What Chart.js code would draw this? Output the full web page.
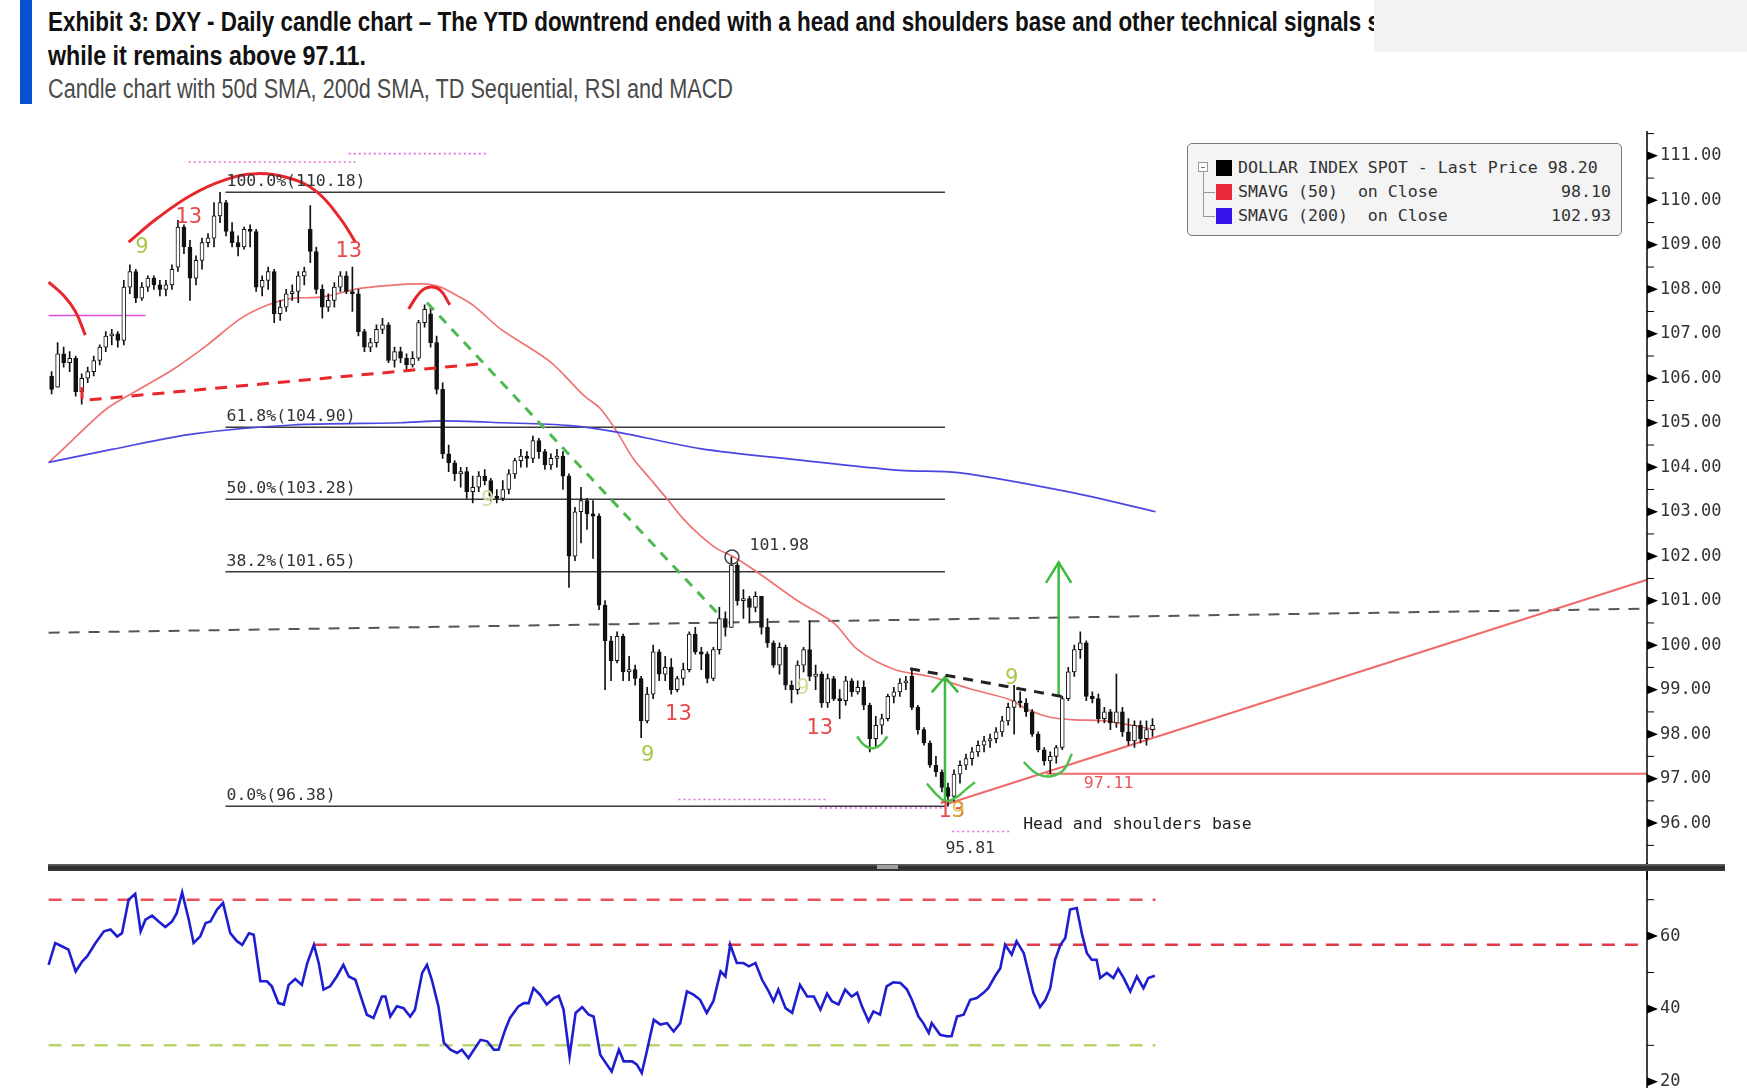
<!DOCTYPE html>
<html>
<head>
<meta charset="utf-8">
<title>DXY - Daily candle chart</title>
<script src="https://cdn.jsdelivr.net/npm/chart.js@4.4.1/dist/chart.umd.min.js"></script>
<style>
html,body{margin:0;padding:0;background:#fff;}
body{position:relative;width:1747px;height:1088px;overflow:hidden;}
#bar{position:absolute;left:20px;top:0;width:12px;height:104px;background:#0a50d2;}
.t{position:absolute;left:48px;white-space:nowrap;transform-origin:0 50%;line-height:32px;}
#t1,#t2{font-family:"Liberation Sans Narrow","Liberation Sans",Arial,sans-serif;font-weight:bold;font-size:28px;color:#111;}
#t1{top:6px;} #t2{top:40px;}
#t3{top:73px;font-family:"Liberation Sans Narrow","Liberation Sans",Arial,sans-serif;font-size:27px;color:#4a4a4a;}
#grey{position:absolute;left:1374px;top:0;width:373px;height:52px;background:#f2f2f2;}
canvas{position:absolute;left:0;}
#pc{top:0;width:1747px;height:880px;}
#rc{top:863px;width:1747px;height:228px;}
#sep{position:absolute;left:48px;top:864px;width:1677px;height:7px;background:linear-gradient(#6a6a6a,#2a2a2a 45%,#3c3c3c);}
#handle{position:absolute;left:877px;top:865px;width:21px;height:4px;background:#a0a0a0;}
#leg{position:absolute;left:1187px;top:143px;width:435px;height:93px;box-sizing:border-box;border:1.5px solid #7a7a7a;border-radius:5px;background:#f4f4f4;font-family:"DejaVu Sans Mono",monospace;font-size:16.6px;color:#333;}
#leg .sq{position:absolute;left:28px;width:16px;height:16px;}
#leg .lt{position:absolute;left:50px;line-height:22px;white-space:pre;}
#leg .lv{position:absolute;right:10px;line-height:22px;white-space:pre;}
#leg .tb{position:absolute;left:10px;top:18px;width:8px;height:8px;border:1px solid #999;background:#fff;}
#leg .tb::after{content:"";position:absolute;left:2px;top:3.5px;width:4px;height:1px;background:#777;}
#leg .tv{position:absolute;left:14.5px;top:28px;width:1px;height:44px;background:#999;}
#leg .th{position:absolute;left:14.5px;width:12px;height:1px;background:#999;}
</style>
</head>
<body>
<div id="bar"></div>
<div id="t1" class="t" data-w="1332">Exhibit 3: DXY - Daily candle chart – The YTD downtrend ended with a head and shoulders base and other technical signals s</div>
<div id="t2" class="t" data-w="318">while it remains above 97.11.</div>
<div id="t3" class="t" data-w="685">Candle chart with 50d SMA, 200d SMA, TD Sequential, RSI and MACD</div>
<div id="grey"></div>

<canvas id="pc" width="1747" height="880"></canvas>
<canvas id="rc" width="1747" height="228"></canvas>
<div id="sep"></div><div id="handle"></div>

<div id="leg">
  <div class="tb"></div><div class="tv"></div>
  <div class="th" style="top:48px"></div><div class="th" style="top:72px"></div>
  <div class="sq" style="top:16px;background:#000"></div>
  <div class="sq" style="top:40px;background:#ea2a3c"></div>
  <div class="sq" style="top:64px;background:#3312ec"></div>
  <div class="lt" style="top:13px">DOLLAR INDEX SPOT - Last Price 98.20</div>
  <div class="lt" style="top:37px">SMAVG (50)  on Close</div><div class="lv" style="top:37px">98.10</div>
  <div class="lt" style="top:61px">SMAVG (200)  on Close</div><div class="lv" style="top:61px">102.93</div>
</div>

<script>
// ---------------- DATA ----------------
const priceTicks = [96,97,98,99,100,101,102,103,104,105,106,107,108,109,110,111];
const rsiTicks = [20,40,60];

// daily candles [open, high, low, close], one per weekday from early Dec 2024
const candles = [
[106.05,106.15,105.65,105.75],[105.8,106.8,105.8,106.55],[106.55,106.7,106.25,106.35],[106.35,106.6,106.15,106.45],
[106.45,106.5,105.6,105.7],[105.7,106.1,105.42,106.0],[106.0,106.25,105.9,106.15],[106.15,106.5,106.05,106.4],
[106.4,106.75,106.3,106.7],[106.7,107.05,106.6,106.95],[106.95,107.1,106.75,107.0],[107.0,107.05,106.7,106.85],
[106.85,108.2,106.75,108.05],[108.05,108.55,107.9,108.4],[108.4,108.45,107.7,107.8],[107.8,108.15,107.75,108.05],
[108.05,108.3,107.95,108.25],[108.25,108.3,108.0,108.1],[108.1,108.2,107.85,108.0],[108.0,108.2,107.85,108.1],
[108.1,108.55,108.0,108.45],[108.5,109.55,108.4,109.4],[109.4,109.45,108.8,108.95],[108.95,109.1,107.75,108.25],
[108.25,108.75,108.1,108.65],[108.65,109.15,108.45,109.05],[109.05,109.25,108.95,109.15],[109.15,109.95,108.95,109.65],
[109.65,110.18,109.5,109.95],[109.95,110.0,109.2,109.3],[109.3,109.5,108.95,109.05],[109.05,109.2,108.75,108.95],
[108.95,109.4,108.9,109.35],[109.35,109.45,108.95,109.3],[109.3,109.35,107.95,108.05],[108.05,108.3,107.85,108.2],
[108.2,108.5,108.0,108.4],[108.4,108.45,107.25,107.45],[107.45,107.75,107.3,107.6],[107.6,108.0,107.5,107.9],
[107.9,108.1,107.75,107.95],[107.95,108.4,107.7,108.3],[108.3,108.5,108.1,108.4],[109.35,109.88,108.6,108.85],
[108.85,108.95,107.9,108.0],[108.0,108.1,107.35,107.6],[107.6,107.9,107.5,107.75],[107.75,108.15,107.6,108.05],
[108.05,108.4,107.95,108.3],[108.3,108.4,107.9,107.95],[107.95,108.5,107.5,107.9],[107.9,108.0,106.95,107.05],
[107.05,107.1,106.6,106.7],[106.7,106.9,106.6,106.8],[106.8,107.2,106.7,107.1],[107.1,107.35,107.0,107.2],
[107.2,107.25,106.35,106.4],[106.4,106.7,106.25,106.6],[106.6,106.7,106.35,106.45],[106.45,106.55,106.15,106.3],
[106.3,106.6,106.25,106.45],[106.45,107.3,106.4,107.25],[107.25,107.65,107.15,107.55],[107.45,107.6,106.7,106.8],
[106.8,106.95,105.65,105.75],[105.75,105.9,104.2,104.3],[104.3,104.5,103.9,104.1],[104.1,104.15,103.7,103.85],
[103.85,104.0,103.55,103.9],[103.9,104.0,103.3,103.45],[103.45,103.8,103.2,103.55],[103.55,103.9,103.45,103.8],
[103.8,103.95,103.6,103.7],[103.7,103.75,103.25,103.35],[103.35,103.5,103.2,103.3],[103.3,103.7,103.25,103.5],
[103.5,103.95,103.4,103.85],[103.85,104.2,103.75,104.15],[104.15,104.4,104.0,104.25],[104.25,104.35,104.0,104.2],
[104.2,104.7,104.1,104.6],[104.6,104.65,104.2,104.35],[104.35,104.4,103.95,104.05],[104.05,104.3,103.95,104.2],
[104.2,104.4,104.0,104.25],[104.25,104.35,103.5,103.8],[103.8,103.85,101.3,102.0],[102.0,103.1,101.9,103.0],
[103.0,103.55,102.3,103.25],[103.25,103.3,102.6,102.95],[102.95,103.25,101.95,102.9],[102.9,102.95,100.8,100.9],
[100.9,101.0,99.0,100.1],[100.1,100.2,99.2,99.65],[99.65,100.3,99.6,100.2],[100.2,100.25,99.2,99.4],
[99.4,99.75,99.2,99.45],[99.45,99.55,99.1,99.25],[99.25,99.3,97.92,98.3],[98.3,99.05,98.25,98.9],
[98.9,100.0,98.8,99.85],[99.85,99.9,99.2,99.35],[99.35,99.75,99.2,99.5],[99.5,99.7,98.9,99.0],
[99.0,99.3,98.95,99.25],[99.25,99.6,99.1,99.45],[99.45,100.3,99.4,100.25],[100.25,100.4,99.8,99.85],
[99.85,99.95,99.45,99.8],[99.8,99.85,99.15,99.25],[99.25,99.95,99.2,99.9],[99.9,100.85,99.8,100.6],
[100.6,100.75,100.2,100.4],[100.4,101.98,100.4,101.8],[101.8,101.85,100.9,101.0],[101.0,101.25,100.6,101.05],
[101.05,101.1,100.5,100.85],[100.85,101.2,100.75,101.1],[101.1,101.1,100.25,100.4],[100.4,100.6,99.95,100.05],
[100.05,100.1,99.5,99.55],[99.55,100.05,99.35,99.95],[99.95,100.0,99.0,99.1],[99.1,99.2,98.7,99.0],
[99.0,99.65,98.9,99.55],[99.55,99.95,99.4,99.9],[99.9,100.55,99.2,99.3],[99.3,99.55,99.0,99.35],
[99.35,99.4,98.6,98.7],[98.7,99.35,98.6,99.25],[99.25,99.3,98.75,98.8],[98.8,99.0,98.35,98.75],
[98.75,99.3,98.65,99.2],[99.2,99.25,98.85,98.95],[98.95,99.2,98.9,99.05],[99.05,99.2,98.55,98.65],
[98.65,98.7,97.6,97.9],[97.9,98.4,97.7,98.2],[98.2,98.45,98.0,98.35],[98.35,98.9,98.3,98.85],
[98.85,99.05,98.7,98.95],[98.95,99.25,98.85,99.15],[99.15,99.3,99.0,99.2],[99.3,99.45,98.55,98.6],
[98.6,98.65,98.0,98.1],[98.1,98.15,97.75,97.8],[97.8,97.85,97.25,97.3],[97.3,97.5,97.05,97.15],
[97.15,97.2,96.7,96.8],[96.8,96.9,96.38,96.6],[96.6,97.2,96.5,97.1],[97.1,97.4,96.9,97.3],
[97.3,97.55,97.2,97.45],[97.45,97.7,97.3,97.6],[97.6,97.85,97.5,97.75],[97.75,97.95,97.6,97.85],
[97.85,98.0,97.7,97.9],[97.9,98.15,97.8,98.05],[98.05,98.4,97.95,98.3],[98.3,98.7,98.2,98.6],
[98.6,99.1,98.0,98.75],[98.75,98.95,98.6,98.7],[98.7,98.8,98.4,98.5],[98.5,98.55,97.95,98.0],
[98.0,98.05,97.6,97.65],[97.65,97.7,97.3,97.4],[97.4,97.6,97.11,97.5],[97.5,97.75,97.35,97.7],
[97.7,98.85,97.65,98.8],[98.8,99.5,98.75,99.4],[99.4,100.0,99.3,99.9],[99.9,100.3,99.7,100.05],
[100.05,100.1,98.75,98.85],[98.85,98.95,98.7,98.8],[98.8,98.9,98.25,98.35],[98.35,98.6,98.25,98.5],
[98.5,98.55,98.1,98.25],[98.25,99.35,98.15,98.5],[98.5,98.6,97.95,98.05],[98.05,98.35,97.75,97.85],
[97.85,98.3,97.7,98.2],[98.2,98.3,97.8,97.9],[97.9,98.3,97.75,98.1],[98.1,98.35,97.95,98.2]
];

// moving averages: [bar index, value]
const sma50 = [[-0.5,104.1],[3.7,104.64],[9.2,105.32],[14.8,105.77],[20.3,106.21],[25.8,106.74],[31.4,107.34],[35.8,107.64],[39.7,107.79],[45.2,107.83],[50.8,108.01],[56.3,108.09],[61.8,108.12],[64.6,108.05],[66.3,107.94],[70.1,107.64],[74.6,107.11],[82.9,106.37],[88.4,105.62],[91.2,105.32],[94.0,104.79],[96.7,104.19],[99.5,103.74],[102.3,103.29],[105.0,102.84],[107.8,102.47],[110.6,102.17],[113.4,101.98],[117.2,101.65],[124.0,101.0],[130.0,100.5],[134.0,99.9],[140.0,99.46],[146.5,99.28],[152.9,99.01],[159.2,98.78],[162.3,98.55],[166.0,98.38],[170.0,98.32],[175.0,98.3],[183.5,98.1]];
const sma200 = [[-0.5,104.11],[10,104.4],[23.6,104.75],[40,104.95],[58,105.0],[65,105.04],[75,105.0],[85.7,104.94],[94,104.79],[107.8,104.42],[124.4,104.16],[141,103.93],[150.7,103.88],[169.3,103.44],[183.5,103.0]];

// RSI(14): [bar index, value]
const rsi = [[-0.5,52.1],[0.6,58.1],[1.7,57.2],[2.8,56.3],[4.0,50.3],[5.1,53.1],[5.9,54.4],[7.3,58.1],[8.7,61.3],[9.8,61.8],[10.9,59.9],[11.7,60.8],[12.8,70.0],[13.9,71.6],[14.8,61.3],[15.6,64.5],[16.7,65.6],[17.8,64.0],[18.9,62.5],[20.0,64.0],[20.8,66.3],[21.7,72.0],[22.8,64.5],[23.6,58.1],[24.7,59.9],[25.6,63.6],[26.4,64.0],[27.5,67.3],[28.5,69.1],[29.7,60.8],[30.8,58.6],[31.7,57.6],[32.8,60.8],[33.6,60.4],[34.7,47.6],[35.8,47.6],[36.6,46.2],[37.7,41.6],[38.6,41.2],[39.4,46.6],[40.5,48.2],[41.6,46.6],[42.5,52.6],[43.6,57.6],[44.4,52.6],[45.2,45.3],[46.3,46.2],[47.4,48.9],[48.5,52.1],[49.4,48.9],[50.5,48.0],[51.3,43.9],[52.4,38.4],[53.5,37.5],[54.9,43.4],[55.5,43.4],[56.3,37.9],[57.4,40.7],[58.5,40.2],[59.6,37.9],[60.4,39.8],[61.6,49.9],[62.4,52.1],[63.2,48.0],[64.3,40.7],[65.2,30.7],[66.3,28.8],[67.4,27.9],[68.2,28.8],[69.3,26.5],[70.2,28.8],[71.3,31.5],[72.4,31.1],[73.5,28.8],[74.3,28.8],[75.4,34.3],[76.2,37.5],[77.6,40.7],[78.5,41.6],[79.3,41.6],[80.1,45.7],[81.2,43.9],[82.3,41.2],[83.5,43.0],[84.3,43.6],[85.1,39.8],[86.1,27.0],[87.1,38.9],[88.2,40.5],[89.3,38.4],[90.1,37.9],[91.2,27.4],[92.3,24.7],[93.1,22.8],[94.3,28.8],[95.1,25.6],[96.5,25.6],[97.3,24.7],[98.1,22.4],[99.0,28.8],[100.1,37.0],[101.2,35.7],[102.3,36.1],[103.4,33.8],[104.5,36.1],[105.6,44.8],[106.7,43.9],[107.8,42.5],[108.9,38.9],[110.0,42.1],[111.2,50.3],[112.0,48.9],[112.8,57.6],[113.9,52.6],[115.0,52.6],[115.9,51.7],[117.0,52.6],[118.1,48.0],[119.2,44.8],[120.0,42.1],[120.8,45.3],[122.0,40.2],[123.1,38.9],[124.4,46.6],[125.6,43.4],[126.7,43.4],[127.8,39.8],[128.9,44.2],[129.7,42.1],[130.8,41.2],[131.9,45.3],[133.0,43.4],[133.9,44.4],[134.7,40.7],[135.8,36.6],[136.6,39.3],[137.7,38.4],[138.8,46.2],[139.9,47.3],[141.1,47.1],[142.2,45.3],[143.0,42.5],[144.1,37.9],[144.9,36.1],[145.8,33.4],[146.3,36.1],[147.7,32.9],[148.8,32.5],[149.6,32.5],[150.5,37.9],[151.6,38.4],[152.7,42.5],[153.8,43.0],[154.9,44.4],[155.7,45.7],[156.8,48.9],[157.7,51.2],[158.5,57.6],[159.6,54.9],[160.4,58.6],[161.6,55.3],[162.4,49.9],[163.2,44.4],[164.3,40.5],[165.2,42.5],[166.0,45.7],[166.8,53.5],[167.7,57.6],[168.5,59.5],[169.3,67.3],[170.4,67.7],[171.3,60.4],[172.1,55.3],[172.9,53.5],[173.7,53.5],[174.3,48.5],[175.4,49.9],[176.5,48.5],[177.3,51.0],[178.2,48.5],[179.3,44.8],[180.4,48.9],[181.5,45.7],[182.3,48.5],[183.4,49.1]];

// Fibonacci retracement levels and names
const fibLevels = [110.18, 104.90, 103.28, 101.65, 96.38];
const fibNames = ['100.0%', '61.8%', '50.0%', '38.2%', '0.0%'];
const rsiBands = [70, 57.6, 30];

// ---------------- ANNOTATION GEOMETRY (data space) ----------------
const X_MIN = -0.6, X_MAX = 265.2;
const fibSpan = [28.9, 148.5];
const ann = {
  greyDash: [[-0.5,100.28],[X_MAX,100.82]],
  redNeck: [[5.06,105.8],[5.06,105.5],[71.8,106.33]],
  greenDash: [[62.4,107.7],[111.5,100.6]],
  blackNeck: [[142.7,99.47],[168.2,98.84]],
  magentaLine: [[-0.5,107.41],[15.6,107.41]],
  dots: [
    [[22.8,110.86],[50.5,110.86]],
    [[49.4,111.05],[72.4,111.05]],
    [[104.2,96.53],[128.7,96.53]],
    [[127.7,96.34],[149.0,96.34]],
    [[149.7,95.81],[159.3,95.81]]
  ],
  domeBig: [[12.8,109.06],[17.5,109.59],[23.1,110.11],[28.6,110.45],[34.1,110.6],[39.7,110.49],[44.1,110.19],[48.0,109.59],[50.5,109.06]],
  domeLeft: [[-0.5,108.16],[2.0,107.86],[4.0,107.49],[5.6,106.97]],
  domeSmall: [[59.35,107.56],[61.3,107.94],[63.0,108.05],[64.6,107.98],[66.2,107.65]],
  smile1: [[133.9,97.95],[135.0,97.76],[136.4,97.68],[137.8,97.76],[138.9,97.95]],
  smile2: [[145.5,96.89],[147.2,96.63],[148.7,96.49],[150.5,96.59],[152.1,96.77],[153.5,96.92]],
  smile3: [[161.6,97.37],[163.8,97.11],[166.0,97.05],[168.2,97.19],[169.6,97.56]],
  arrow1: [[148.5,96.45],[148.5,99.28]],
  head1: [[146.3,98.94],[148.5,99.28],[150.7,98.94]],
  arrow2: [[167.4,98.84],[167.4,101.86]],
  head2: [[165.3,101.4],[167.4,101.86],[169.5,101.4]],
  trend: [[148.8,96.43],[X_MAX,101.47]],
  support: [[165.4,97.11],[X_MAX,97.11]],
  circle: [[113.1,101.98]]
};
const tdMarks = [
  ['9',15.0,108.93,'#a9c84a'],['13',22.8,109.62,'#e8474c'],['13',49.4,108.84,'#e8474c'],
  ['9',72.5,103.26,'#cddf9e'],['9',99.1,97.52,'#a9c84a'],['13',104.2,98.44,'#e8474c'],
  ['9',124.9,99.02,'#cddf9e'],['13',127.7,98.13,'#e8474c'],['9',159.6,99.25,'#a9c84a'],
  ['13',149.65,96.25,'#e8474c'],['9',150.7,96.25,'rgba(214,190,60,0.85)']
];
const priceLabels = [
  ['101.98',116.0,102.24,'left','#333'],
  ['97.11',175.7,96.88,'center','#e8585c'],
  ['Head and shoulders base',161.5,95.97,'left','#222'],
  ['95.81',152.7,95.42,'center','#333']
];

// ---------------- HELPERS ----------------
const pts = a => a.map(p => ({x:p[0], y:p[1]}));
function lineDS(points, color, width, dash, order, tension){
  return {type:'line', data:pts(points), borderColor:color, borderWidth:width,
    borderDash:dash||[], pointRadius:0, pointHoverRadius:0, fill:false,
    tension:tension||0, order:order, clip:false};
}
function fixAxis(s){ s.width = 100; s.paddingTop = 0; s.paddingBottom = 0; }

// ---------------- PRICE CHART ----------------
const datasets = [];
fibLevels.forEach(v => datasets.push(lineDS([[fibSpan[0],v],[fibSpan[1],v]], '#3a3a3a', 1.6, [], 9)));
datasets.push(lineDS(ann.greyDash, '#555', 2, [11,9], 8));
datasets.push(lineDS(sma200, '#4b46e2', 1.7, [], 7, 0.3));
datasets.push(lineDS(sma50, '#f07272', 1.7, [], 7, 0.3));
datasets.push(lineDS(ann.trend, '#f06a6a', 2, [], 6));
datasets.push(lineDS(ann.support, '#f06a6a', 2, [], 6));
datasets.push(lineDS(ann.magentaLine, '#dd4ddd', 1.6, [], 6));
ann.dots.forEach(d => datasets.push(lineDS(d, '#e36ae3', 1.6, [2,3], 6)));
datasets.push({type:'bar', label:'wick', data:candles.map((c,i)=>({x:i, y:[c[2],c[1]]})),
  backgroundColor:'#111', barThickness:1, grouped:false, order:3, borderWidth:0, minBarLength:1});
datasets.push({type:'bar', label:'body', data:candles.map((c,i)=>({x:i, y:[c[0],c[3]]})),
  backgroundColor:candles.map(c => c[3] >= c[0] ? '#ffffff' : '#111111'),
  borderColor:'#111', borderWidth:1, borderSkipped:false, barThickness:4, grouped:false, order:2, minBarLength:1});
datasets.push(lineDS(ann.redNeck, '#e8262b', 3, [12,9], 1));
datasets.push(lineDS(ann.greenDash, '#4fb94f', 3, [10,8], 1));
datasets.push(lineDS(ann.blackNeck, '#222', 3, [10,8], 1));
datasets.push(lineDS(ann.domeBig, '#e8262b', 3, [], 1, 0.4));
datasets.push(lineDS(ann.domeLeft, '#e8262b', 3, [], 1, 0.4));
datasets.push(lineDS(ann.domeSmall, '#e8262b', 3, [], 1, 0.4));
[ann.smile1, ann.smile2, ann.smile3].forEach(s => datasets.push(lineDS(s, '#4cc04c', 2.5, [], 1, 0.4)));
[ann.arrow1, ann.head1, ann.arrow2, ann.head2].forEach(s => datasets.push(lineDS(s, '#3dbb3d', 2.5, [], 1)));
datasets.push({type:'line', data:pts(ann.circle), showLine:false, pointRadius:7, pointStyle:'circle',
  pointBorderColor:'#444', pointBackgroundColor:'rgba(0,0,0,0)', pointBorderWidth:1.5, order:0});

const priceDeco = {
  id:'priceDeco',
  afterDatasetsDraw(chart){
    const {ctx, scales:{x, y}} = chart;
    ctx.save();
    ctx.textBaseline = 'bottom';
    ctx.font = '16.5px "DejaVu Sans Mono", monospace';
    ctx.fillStyle = '#333';
    ctx.textAlign = 'left';
    fibLevels.forEach((v,k) => {
      ctx.fillText(fibNames[k] + '(' + v.toFixed(2) + ')', x.getPixelForValue(fibSpan[0]) + 1, y.getPixelForValue(v) - 2);
    });
    ctx.textBaseline = 'middle';
    priceLabels.forEach(l => {
      ctx.fillStyle = l[4]; ctx.textAlign = l[3];
      ctx.fillText(l[0], x.getPixelForValue(l[1]), y.getPixelForValue(l[2]));
    });
    ctx.font = '21px "DejaVu Sans", sans-serif';
    ctx.textAlign = 'center';
    tdMarks.forEach(m => {
      ctx.fillStyle = m[3];
      ctx.fillText(m[0], x.getPixelForValue(m[1]), y.getPixelForValue(m[2]));
    });
    ctx.restore();
  },
  afterDraw(chart){
    const {ctx, chartArea:a, scales:{y}} = chart;
    ctx.save();
    ctx.strokeStyle = '#000'; ctx.fillStyle = '#000'; ctx.lineWidth = 1.5;
    ctx.beginPath(); ctx.moveTo(a.right, 131); ctx.lineTo(a.right, 880); ctx.stroke();
    ctx.lineWidth = 1;
    priceTicks.forEach(v => {
      const py = y.getPixelForValue(v);
      ctx.beginPath(); ctx.moveTo(a.right, py - 4.5); ctx.lineTo(a.right + 11, py); ctx.lineTo(a.right, py + 4.5); ctx.closePath(); ctx.fill();
      const pm = y.getPixelForValue(v + 0.5);
      ctx.beginPath(); ctx.moveTo(a.right, pm); ctx.lineTo(a.right + 7, pm); ctx.stroke();
    });
    const p0 = y.getPixelForValue(priceTicks[0] - 0.5);
    ctx.beginPath(); ctx.moveTo(a.right, p0); ctx.lineTo(a.right + 7, p0); ctx.stroke();
    ctx.restore();
  }
};

new Chart(document.getElementById('pc'), {
  type:'bar',
  data:{datasets},
  options:{
    responsive:false, animation:false, events:[],
    layout:{padding:{left:48, top:133.6, bottom:12.4, right:0}},
    plugins:{legend:{display:false}, tooltip:{enabled:false}, title:{display:false}},
    scales:{
      x:{type:'linear', min:X_MIN, max:X_MAX, display:false, offset:false},
      y:{type:'linear', position:'right', min:95, max:111.5,
         grid:{display:false, drawTicks:false}, border:{display:false},
         afterFit: fixAxis,
         afterBuildTicks(s){ s.ticks = priceTicks.map(v => ({value:v})); },
         ticks:{autoSkip:false, padding:13, color:'#333',
           font:{family:'"DejaVu Sans Mono", monospace', size:17},
           callback:v => Number(v).toFixed(2)}}
    }
  },
  plugins:[priceDeco]
});

// ---------------- RSI CHART ----------------
const rsiDeco = {
  id:'rsiDeco',
  afterDraw(chart){
    const {ctx, chartArea:a, scales:{y}} = chart;
    ctx.save();
    ctx.strokeStyle = '#000'; ctx.fillStyle = '#000'; ctx.lineWidth = 1.5;
    ctx.beginPath(); ctx.moveTo(a.right, 0); ctx.lineTo(a.right, chart.height); ctx.stroke();
    ctx.lineWidth = 1;
    rsiTicks.forEach(v => {
      const py = y.getPixelForValue(v);
      ctx.beginPath(); ctx.moveTo(a.right, py - 4.5); ctx.lineTo(a.right + 11, py); ctx.lineTo(a.right, py + 4.5); ctx.closePath(); ctx.fill();
      const pm = y.getPixelForValue(v + 10);
      ctx.beginPath(); ctx.moveTo(a.right, pm); ctx.lineTo(a.right + 7, pm); ctx.stroke();
    });
    ctx.restore();
  }
};

new Chart(document.getElementById('rc'), {
  type:'line',
  data:{datasets:[
    lineDS([[-0.5,rsiBands[0]],[183.5,rsiBands[0]]], '#ea4f5c', 2.5, [13,10], 3),
    lineDS([[43.6,rsiBands[1]],[X_MAX,rsiBands[1]]], '#e23a48', 2.5, [13,10], 3),
    lineDS([[-0.5,rsiBands[2]],[183.5,rsiBands[2]]], '#b8d46c', 2.5, [13,10], 3),
    lineDS(rsi, '#1e1ed0', 2.6, [], 1)
  ]},
  options:{
    responsive:false, animation:false, events:[],
    layout:{padding:{left:48, top:10, bottom:0, right:0}},
    plugins:{legend:{display:false}, tooltip:{enabled:false}},
    scales:{
      x:{type:'linear', min:X_MIN, max:X_MAX, display:false, offset:false},
      y:{type:'linear', position:'right', min:17.45, max:77.33,
         grid:{display:false, drawTicks:false}, border:{display:false},
         afterFit: fixAxis,
         afterBuildTicks(s){ s.ticks = rsiTicks.map(v => ({value:v})); },
         ticks:{autoSkip:false, padding:13, color:'#333',
           font:{family:'"DejaVu Sans Mono", monospace', size:17},
           callback:v => String(v)}}
    }
  },
  plugins:[rsiDeco]
});

// ---------------- HEADER FIT ----------------
function fitTitles(){
  document.querySelectorAll('.t').forEach(el => {
    el.style.transform = 'none';
    const w = el.getBoundingClientRect().width;
    const target = +el.dataset.w;
    el.style.transform = 'scaleX(' + (target / w) + ')';
  });
}
fitTitles();
if (document.fonts && document.fonts.ready) document.fonts.ready.then(fitTitles);
</script>
</body>
</html>
